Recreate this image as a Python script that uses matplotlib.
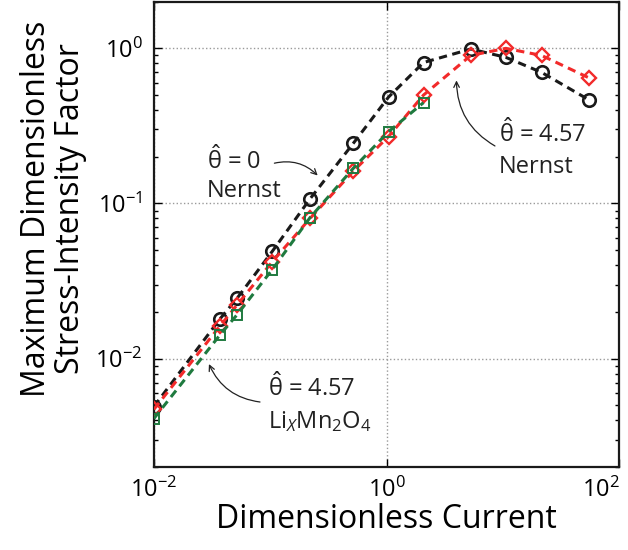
import matplotlib
matplotlib.use("Agg")
import matplotlib.pyplot as plt
from matplotlib.ticker import LogLocator, NullLocator, LogFormatterMathtext
from matplotlib.transforms import ScaledTranslation

plt.rcParams['font.family'] = ['Open Sans', 'DejaVu Sans']
plt.rcParams['mathtext.fontset'] = 'custom'
plt.rcParams['mathtext.rm'] = 'Open Sans'
plt.rcParams['mathtext.it'] = 'Open Sans:italic'
plt.rcParams['mathtext.bf'] = 'Open Sans:bold'

# theta_hat = 0, Nernst (black circles)
x_nernst0 = [0.01, 0.037, 0.052, 0.104, 0.22, 0.52, 1.04, 2.08, 5.3, 10.6, 21.5, 55]
y_nernst0 = [0.0049, 0.018, 0.0245, 0.049, 0.107, 0.245, 0.485, 0.81, 0.99, 0.875, 0.70, 0.465]

# theta_hat = 4.57, Nernst (red diamonds)
x_nernst457 = [0.01, 0.037, 0.052, 0.104, 0.22, 0.52, 1.04, 2.08, 5.3, 10.6, 21.5, 55]
y_nernst457 = [0.0047, 0.0162, 0.0222, 0.042, 0.080, 0.162, 0.27, 0.50, 0.90, 1.0, 0.90, 0.645]

# theta_hat = 4.57, LixMn2O4 (green squares)
x_limn = [0.01, 0.037, 0.052, 0.104, 0.22, 0.52, 1.04, 2.08]
y_limn = [0.0041, 0.0142, 0.0192, 0.0374, 0.081, 0.169, 0.29, 0.447]

red = '#f22a2a'
green = '#1f7a3f'

fig = plt.figure(figsize=(6.28, 5.5), dpi=100)
ax = fig.add_axes([0.245, 0.151, 0.741, 0.846])

ax.plot(x_nernst0, y_nernst0, '--', color='#1a1a1a', lw=2.2, dashes=(2.7, 1.8),
        marker='o', ms=9, mfc='none', mew=1.9, zorder=3)
ax.plot(x_nernst457, y_nernst457, '--', color=red, lw=2.2, dashes=(2.7, 1.8),
        marker='D', ms=7.5, mfc='none', mew=1.7, zorder=4)
ax.plot(x_limn, y_limn, '--', color=green, lw=2.2, dashes=(2.7, 1.8),
        marker='s', ms=7, mfc='none', mew=1.4, zorder=5)

ax.set_xscale('log')
ax.set_yscale('log')
ax.set_xlim(1e-2, 1e2)
ax.set_ylim(2e-3, 2)

ax.set_xticks([1e-2, 1e0, 1e2])
ax.xaxis.set_minor_locator(NullLocator())
ax.xaxis.set_major_formatter(LogFormatterMathtext())
ax.yaxis.set_major_locator(LogLocator(base=10, numticks=10))
ax.yaxis.set_minor_locator(LogLocator(base=10, subs=range(2, 10), numticks=20))
ax.yaxis.set_major_formatter(LogFormatterMathtext())

ax.grid(True, which='major', ls=':', color='#9a9a9a', lw=1.0)
ax.tick_params(which='both', direction='in', top=True, right=True, labelsize=17,
               width=1.0, pad=8)
ax.tick_params(which='major', length=6)
ax.tick_params(which='minor', length=3)
for s in ax.spines.values():
    s.set_linewidth(1.6)
    s.set_color('#1a1a1a')

# last x tick label sits inside the figure edge
fig.canvas.draw()
last = ax.get_xticklabels()[-1]
last.set_transform(last.get_transform() + ScaledTranslation(-18 / 100, 0, fig.dpi_scale_trans))

ax.set_xlabel('Dimensionless Current', fontsize=23, labelpad=0)
ax.set_ylabel('Maximum Dimensionless\nStress-Intensity Factor', fontsize=23,
              linespacing=1.05)
ax.yaxis.set_label_coords(-0.143, 0.555)

tk = dict(fontsize=17, ha='left', va='center', color='#222222')
ax.text(0.0285, 0.19, r'$\hat{\mathrm{\theta}}$ = 0', **tk)
ax.text(0.0285, 0.12, 'Nernst', **tk)
ax.annotate('', xy=(0.266, 0.147), xytext=(0.103, 0.18),
            arrowprops=dict(arrowstyle='->', lw=0.9, color='#222222',
                            connectionstyle='arc3,rad=-0.3'))

ax.text(9.3, 0.283, r'$\hat{\mathrm{\theta}}$ = 4.57', **tk)
ax.text(9.3, 0.173, 'Nernst', **tk)
ax.annotate('', xy=(3.99, 0.647), xytext=(8.97, 0.23),
            arrowprops=dict(arrowstyle='->', lw=0.9, color='#222222',
                            connectionstyle='arc3,rad=-0.3'))

ax.text(0.0952, 0.00653, r'$\hat{\mathrm{\theta}}$ = 4.57', **tk)
ax.text(0.0952, 0.00389, r'Li$_{\mathit{X}}$Mn$_2$O$_4$', **tk)
ax.annotate('', xy=(0.0291, 0.00957), xytext=(0.0863, 0.00522),
            arrowprops=dict(arrowstyle='->', lw=0.9, color='#222222',
                            connectionstyle='arc3,rad=-0.3'))

fig.savefig('out.png', dpi=100)
